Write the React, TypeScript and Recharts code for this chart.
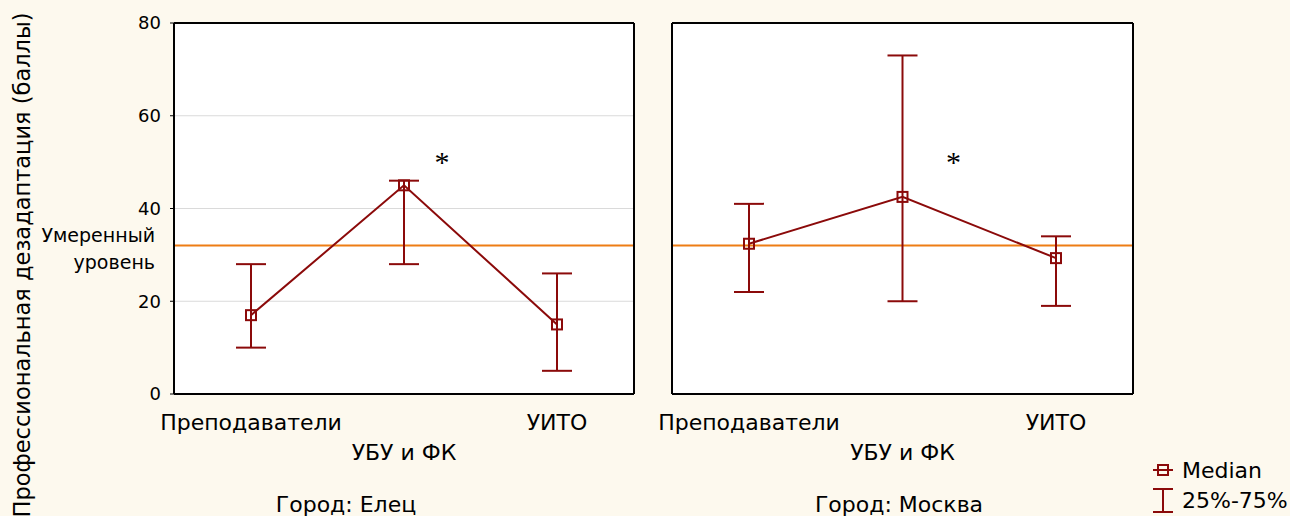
import React from 'react'
import {
  LineChart,
  Line,
  XAxis,
  YAxis,
  CartesianGrid,
  ErrorBar,
  ReferenceLine,
  ReferenceDot,
} from 'recharts'

const categories = ['Преподаватели', 'УБУ и ФК', 'УИТО']
const yTicks = [0, 20, 40, 60, 80]

// Город: Елец
const eletsMedian = [17, 45, 15]
const eletsQ1 = [10, 28, 5]
const eletsQ3 = [28, 46, 26]

// Город: Москва
const moscowMedian = [32.4, 42.5, 29.3]
const moscowQ1 = [22, 20, 19]
const moscowQ3 = [41, 73, 34]

const moderateLevel = 32
const asteriskLevel = 51

const RED = '#8b0a0a'
const ORANGE = '#ee7d14'
const BG = '#fdf9ee'
const FONT = '"DejaVu Sans", "Liberation Sans", Arial, sans-serif'

const buildRows = (median: number[], q1: number[], q3: number[]) =>
  categories.map((name, i) => ({
    name,
    median: median[i],
    spread: [median[i] - q1[i], q3[i] - median[i]],
  }))

const eletsRows = buildRows(eletsMedian, eletsQ1, eletsQ3)
const moscowRows = buildRows(moscowMedian, moscowQ1, moscowQ3)

const SquareDot = (props: any) => {
  const { cx, cy, index } = props
  if (cx == null || cy == null) return null
  return (
    <rect
      key={`sq-${index}`}
      x={cx - 5}
      y={cy - 5}
      width={10}
      height={10}
      fill="none"
      stroke={RED}
      strokeWidth={2}
    />
  )
}

const CategoryTick = (props: any) => {
  const { x, y, payload } = props
  const idx = categories.indexOf(payload.value)
  return (
    <text
      x={x}
      y={y + (idx % 2 === 1 ? 56 : 26)}
      textAnchor="middle"
      dominantBaseline="central"
      fontSize={22}
      fontFamily={FONT}
      fill="#000"
    >
      {payload.value}
    </text>
  )
}

const ModerateLabel = (props: any) => {
  const { viewBox } = props
  if (!viewBox) return null
  const x = viewBox.x - 19
  const y = viewBox.y
  return (
    <text textAnchor="end" fontSize={19} fontFamily={FONT} fill="#000">
      <tspan x={x} y={y - 11} dominantBaseline="central">
        Умеренный
      </tspan>
      <tspan x={x} y={y + 16} dominantBaseline="central">
        уровень
      </tspan>
    </text>
  )
}

const makeAsterisk = (dx: number) => (props: any) => {
  const { viewBox } = props
  if (!viewBox) return null
  const cx = viewBox.x + viewBox.width / 2
  const cy = viewBox.y + viewBox.height / 2
  return (
    <text
      x={cx + dx}
      y={cy + 15}
      textAnchor="middle"
      fontSize={30}
      fontFamily='"Liberation Serif", serif'
      fill="#000"
    >
      *
    </text>
  )
}

const PAD = { left: 77, right: 77 }

function Panel({
  rows,
  showYLabels,
  asteriskDx,
}: {
  rows: any[]
  showYLabels: boolean
  asteriskDx: number
}) {
  const AsteriskLabel = makeAsterisk(asteriskDx)
  return (
    <LineChart
      width={showYLabels ? 640 : 499}
      height={516}
      data={rows}
      margin={{ top: 23, right: 5, bottom: 62, left: 0 }}
    >
      <CartesianGrid vertical={false} stroke="#dadada" fill="#fff" horizontalValues={[20, 40, 60]} />
      <XAxis
        dataKey="name"
        height={60}
        padding={PAD}
        axisLine={{ stroke: '#000', strokeWidth: 2 }}
        tickLine={false}
        tickSize={0}
        tick={<CategoryTick />}
        interval={0}
      />
      <XAxis
        xAxisId="top"
        dataKey="name"
        orientation="top"
        height={1}
        padding={PAD}
        mirror
        tick={false}
        tickSize={4}
        tickLine={{ stroke: '#000' }}
        axisLine={{ stroke: '#000', strokeWidth: 2 }}
      />
      <YAxis
        width={showYLabels ? 174 : 32}
        domain={[0, 80]}
        ticks={yTicks}
        tickSize={4}
        tickMargin={9}
        tick={showYLabels ? { fill: '#000', fontSize: 18, fontFamily: FONT } : false}
        tickLine={{ stroke: '#000' }}
        axisLine={{ stroke: '#000', strokeWidth: 2 }}
      />
      <YAxis
        yAxisId="right"
        orientation="right"
        width={1}
        domain={[0, 80]}
        ticks={yTicks}
        tick={false}
        tickLine={false}
        axisLine={{ stroke: '#000', strokeWidth: 2 }}
      />
      <ReferenceLine
        y={moderateLevel}
        stroke={ORANGE}
        strokeWidth={2}
        label={showYLabels ? <ModerateLabel /> : undefined}
      />
      <ReferenceDot
        x={categories[1]}
        y={asteriskLevel}
        r={1}
        fill="none"
        stroke="none"
        label={<AsteriskLabel />}
      />
      {/* binds the frame axes (top / right) so they are drawn */}
      <Line
        xAxisId="top"
        yAxisId="right"
        dataKey="median"
        stroke="none"
        dot={false}
        activeDot={false}
        legendType="none"
        isAnimationActive={false}
      />
      <Line
        dataKey="median"
        stroke={RED}
        strokeWidth={2}
        dot={SquareDot}
        activeDot={false}
        isAnimationActive={false}
      >
        <ErrorBar dataKey="spread" width={15} stroke={RED} strokeWidth={2} direction="y" />
      </Line>
    </LineChart>
  )
}

export default function App() {
  return (
    <div
      style={{
        position: 'absolute',
        left: 0,
        top: 0,
        width: 1290,
        height: 516,
        background: BG,
        fontFamily: FONT,
        overflow: 'hidden',
      }}
    >
      <div style={{ position: 'absolute', left: 0, top: 0 }}>
        <Panel rows={eletsRows} showYLabels asteriskDx={38} />
      </div>
      <div style={{ position: 'absolute', left: 640, top: 0 }}>
        <Panel rows={moscowRows} showYLabels={false} asteriskDx={51} />
      </div>

      {/* y axis title */}
      <div
        style={{
          position: 'absolute',
          left: 22 - 270,
          top: 265 - 14,
          width: 540,
          height: 28,
          lineHeight: '28px',
          fontSize: 22.5,
          textAlign: 'center',
          transform: 'rotate(-90deg)',
          whiteSpace: 'nowrap',
        }}
      >
        Профессиональная дезадаптация (баллы)
      </div>

      {/* panel captions */}
      <div
        style={{
          position: 'absolute',
          left: 346 - 150,
          top: 492,
          width: 300,
          lineHeight: '26px',
          fontSize: 22,
          textAlign: 'center',
        }}
      >
        Город: Елец
      </div>
      <div
        style={{
          position: 'absolute',
          left: 899 - 150,
          top: 492,
          width: 300,
          lineHeight: '26px',
          fontSize: 22,
          textAlign: 'center',
        }}
      >
        Город: Москва
      </div>

      {/* legend */}
      <svg
        width={140}
        height={60}
        style={{ position: 'absolute', left: 1150, top: 456 }}
      >
        <line x1={3} y1={14} x2={23} y2={14} stroke={RED} strokeWidth={2} />
        <rect x={8} y={9} width={10} height={10} fill="none" stroke={RED} strokeWidth={2} />
        <text x={32} y={14} dominantBaseline="central" fontSize={22} fontFamily={FONT} fill="#000">
          Median
        </text>
        <line x1={3} y1={33} x2={23} y2={33} stroke={RED} strokeWidth={2} />
        <line x1={13} y1={33} x2={13} y2={56} stroke={RED} strokeWidth={2} />
        <line x1={3} y1={56} x2={23} y2={56} stroke={RED} strokeWidth={2} />
        <text x={32} y={44} dominantBaseline="central" fontSize={22} fontFamily={FONT} fill="#000">
          25%-75%
        </text>
      </svg>
    </div>
  )
}
